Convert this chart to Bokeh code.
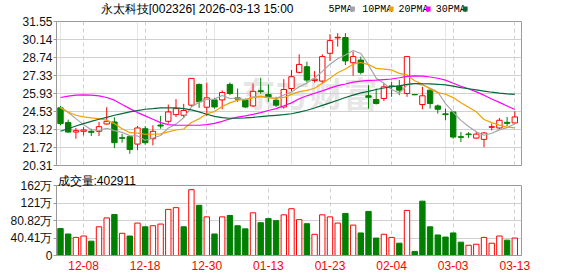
from bokeh.plotting import figure
from bokeh.models import Range1d, FixedTicker, Label, Grid, Title
from bokeh.core.properties import value
from bokeh.layouts import column
from bokeh.embed import file_html
from bokeh.resources import INLINE

# ---------------- data ----------------
dates = ["12-03", "12-04", "12-05", "12-08", "12-09", "12-10", "12-11", "12-12", "12-15", "12-16",
         "12-17", "12-18", "12-19", "12-22", "12-23", "12-24", "12-25", "12-26", "12-29", "12-30",
         "12-31", "01-05", "01-06", "01-07", "01-08", "01-09", "01-12", "01-13", "01-14", "01-15",
         "01-16", "01-19", "01-20", "01-21", "01-22", "01-23", "01-26", "01-27", "01-28", "01-29",
         "01-30", "02-02", "02-03", "02-04", "02-05", "02-06", "02-09", "02-10", "02-11", "02-12",
         "02-13", "03-03", "03-04", "03-05", "03-06", "03-09", "03-10", "03-11", "03-12", "03-13"]

opens = [24.81, 23.66, 22.92, 22.98, 22.98, 22.98, 23.55, 23.71, 22.48, 22.56,
         21.98, 23.18, 22.40, 23.47, 23.76, 24.28, 24.23, 25.02, 26.64, 24.86,
         25.43, 25.43, 26.64, 25.59, 25.43, 24.96, 26.14, 25.85, 25.41, 24.88,
         26.32, 27.58, 28.02, 26.95, 26.90, 29.07, 30.27, 30.30, 28.33, 28.54,
         25.75, 25.46, 25.54, 26.52, 26.50, 25.93, 25.85, 25.07, 26.19, 24.96,
         24.34, 24.49, 22.56, 22.77, 22.45, 22.35, 23.29, 23.24, 23.68, 23.63]
highs = [24.96, 23.89, 23.24, 23.32, 23.18, 23.71, 24.86, 24.07, 22.79, 22.66,
         23.39, 23.39, 23.45, 24.18, 25.07, 25.49, 25.12, 27.11, 26.71, 26.79,
         25.59, 26.17, 26.79, 26.32, 25.54, 26.71, 27.16, 26.64, 25.67, 27.05,
         27.76, 28.99, 28.41, 27.68, 28.99, 30.56, 30.64, 30.64, 29.20, 28.81,
         26.58, 26.32, 26.71, 26.84, 26.98, 28.81, 25.88, 26.45, 26.27, 25.07,
         24.75, 24.54, 22.92, 22.92, 22.92, 22.92, 23.58, 24.02, 24.10, 24.54]
lows = [23.45, 22.87, 22.40, 22.66, 22.61, 22.61, 23.50, 21.67, 22.09, 21.22,
        21.51, 21.93, 21.88, 23.18, 23.58, 24.10, 24.02, 24.88, 24.81, 24.18,
        24.75, 24.70, 25.80, 25.28, 24.81, 24.88, 25.93, 25.28, 24.88, 24.75,
        26.11, 27.50, 26.79, 26.79, 26.71, 28.47, 29.59, 28.15, 27.32, 27.42,
        24.75, 25.07, 25.33, 25.67, 25.80, 25.67, 25.80, 24.70, 24.75, 24.36,
        23.84, 22.40, 22.14, 22.45, 22.40, 21.75, 23.05, 23.13, 23.39, 23.58]
closes = [23.58, 22.92, 23.03, 23.08, 22.90, 23.34, 23.76, 22.09, 22.43, 21.56,
          23.24, 22.09, 22.98, 23.39, 24.49, 24.75, 24.60, 27.11, 25.28, 25.59,
          24.88, 26.01, 25.93, 25.49, 24.88, 26.10, 26.08, 25.62, 25.02, 26.24,
          27.24, 28.20, 26.98, 27.05, 28.81, 30.06, 30.32, 28.47, 28.81, 27.58,
          25.64, 25.15, 26.45, 26.48, 26.19, 28.81, 25.83, 25.75, 25.15, 24.70,
          24.28, 22.53, 22.51, 22.72, 22.76, 22.85, 23.34, 23.84, 23.60, 24.10]
# volume in 万 (10k)
volumes = [62.2, 49.7, 41.8, 45.0, 33.1, 66.3, 86.8, 94.7, 51.3, 45.0,
           74.9, 66.3, 68.7, 72.6, 106.5, 110.5, 66.3, 152.0, 115.9, 89.2,
           49.7, 89.2, 92.4, 68.7, 61.5, 98.6, 75.7, 85.2, 80.5, 93.9,
           108.0, 82.8, 73.4, 49.0, 93.9, 89.2, 74.9, 97.1, 70.2, 52.1,
           101.8, 40.3, 49.0, 41.8, 28.4, 104.1, 9.4, 125.5, 66.3, 47.4,
           42.6, 52.1, 30.8, 23.7, 26.0, 41.8, 28.4, 45.0, 35.5, 40.29]

ma5 = [24.88, 24.44, 23.97, 23.50, 23.10, 23.05, 23.22, 23.03, 22.90, 22.64,
       22.62, 22.28, 22.46, 22.65, 23.24, 23.54, 24.04, 24.87, 25.25, 25.47,
       25.49, 25.77, 25.54, 25.58, 25.44, 25.67, 25.69, 25.63, 25.53, 25.81,
       26.04, 26.46, 26.74, 27.14, 27.66, 28.22, 28.64, 28.94, 29.29, 29.05,
       28.16, 27.13, 26.73, 26.24, 25.96, 26.59, 26.73, 26.59, 26.35, 26.05,
       25.14, 24.48, 23.83, 23.35, 22.95, 22.67, 22.83, 23.09, 23.27, 23.55]
ma10 = [24.81, 24.49, 24.23, 24.10, 24.02, 23.97, 23.84, 23.58, 23.18, 22.87,
        22.84, 22.75, 22.75, 22.78, 22.94, 23.08, 23.16, 23.66, 23.95, 24.35,
        24.52, 24.91, 25.20, 25.41, 25.45, 25.58, 25.73, 25.58, 25.56, 25.62,
        25.86, 26.08, 26.18, 26.34, 26.73, 27.13, 27.55, 27.84, 28.22, 28.35,
        28.19, 27.89, 27.83, 27.77, 27.50, 27.38, 26.93, 26.66, 26.29, 26.00,
        25.87, 25.61, 25.21, 24.85, 24.50, 23.90, 23.66, 23.46, 23.31, 23.25]
ma20 = [25.62, 25.72, 25.80, 25.83, 25.80, 25.75, 25.62, 25.41, 25.07, 24.75,
        24.44, 24.18, 23.92, 23.66, 23.50, 23.45, 23.45, 23.45, 23.45, 23.50,
        23.60, 23.76, 23.95, 24.08, 24.18, 24.30, 24.44, 24.60, 24.75, 24.97,
        25.20, 25.52, 25.75, 25.95, 26.14, 26.35, 26.55, 26.67, 26.82, 26.90,
        26.96, 26.98, 27.02, 27.06, 27.16, 27.27, 27.30, 27.28, 27.22, 27.12,
        26.97, 26.73, 26.50, 26.30, 26.06, 25.80, 25.50, 25.24, 24.95, 24.68]
ma30 = [22.98, 23.18, 23.39, 23.58, 23.76, 23.92, 24.07, 24.23, 24.36, 24.49,
        24.60, 24.70, 24.75, 24.81, 24.81, 24.81, 24.75, 24.65, 24.49, 24.31,
        24.15, 24.05, 24.00, 24.00, 24.02, 24.07, 24.13, 24.18, 24.23, 24.28,
        24.35, 24.48, 24.62, 24.80, 25.00, 25.20, 25.40, 25.62, 25.80, 25.98,
        26.10, 26.24, 26.36, 26.47, 26.53, 26.64, 26.70, 26.69, 26.68, 26.65,
        26.60, 26.50, 26.39, 26.30, 26.21, 26.12, 26.03, 25.96, 25.90, 25.86]

price_ticks = [20.31, 21.72, 23.12, 24.53, 25.93, 27.33, 28.74, 30.14, 31.55]
vol_ticks = [0, 40.41, 80.82, 121.23, 161.64]
vol_tick_labels = ["0", "40.41万", "80.82万", "121万", "162万"]
date_tick_idx = [3, 11, 19, 27, 35, 43, 51, 59]
title_text = "永太科技[002326] 2026-03-13 15:00"
vol_title = "成交量:402911"
ma_names = ["5PMA", "10PMA", "20PMA", "30PMA"]
watermark = "东方财富"

# ---------------- style / layout ----------------
RED = "#ff0000"
GREEN = "#008000"
MA_COLORS = ["#a6a6a6", "#f5a000", "#ff00ff", "#05683a"]
FRAME = "#9a9a9a"
GRID = "#d0d0d0"
FONT = "Liberation Sans"

W = 578
HDR_H = 15          # header strip (title + MA legend): y 0 .. 15
P_H = 158           # price panel canvas: y 15 .. 173
V_H = 276 - HDR_H - P_H   # volume panel canvas: y 173 .. 276
L, R = 56, 57
P_TOP, P_BOT = 6, 8       # price frame 21 .. 165
V_TOP, V_BOT = 12, 21     # volume frame 185 .. 255
x_start, x_end = -0.52, 59.87
FRAME_W = W - L - R

n = len(closes)
xs = list(range(n))


def sx(X):
    return x_start + (X - L) * (x_end - x_start) / FRAME_W


def sy_price(Y):  # Y measured from page top
    top = HDR_H + P_TOP
    return price_ticks[-1] - (Y - top) * (price_ticks[-1] - price_ticks[0]) / (P_H - P_TOP - P_BOT)


def style_y(ax):
    ax.minor_tick_line_color = None
    ax.major_tick_in = 0
    ax.major_tick_out = 3
    ax.axis_line_color = FRAME
    ax.major_tick_line_color = FRAME
    ax.major_label_text_font = FONT
    ax.major_label_text_font_size = "12px"
    ax.major_label_text_color = "#111111"
    ax.major_label_standoff = 1


# ---------------- header strip ----------------
hdr = figure(width=W, height=HDR_H, x_range=Range1d(0, W), y_range=Range1d(HDR_H, 0),
             output_backend="svg", toolbar_location=None, x_axis_location=None,
             y_axis_location=None, min_border=0, title=None)
hdr.outline_line_color = None
hdr.grid.visible = False
hdr.text(x=[55], y=[8.5], text=[title_text], text_align="left", text_baseline="middle",
         text_font=value(FONT), text_font_size="12px", text_color="#000000")
leg_text_x = [338, 380, 425, 471.5]
leg_box_x = [365, 413, 459, 505]
hdr.text(x=leg_text_x, y=[8.5] * 4, text=ma_names, text_align="left", text_baseline="middle",
         text_font=value("Liberation Mono"), text_font_size="10px", text_color="#000000")
hdr.quad(left=leg_box_x, right=[b + 6 for b in leg_box_x], top=[6] * 4, bottom=[11] * 4,
         fill_color=MA_COLORS, line_color=None)

# ---------------- price panel ----------------
p = figure(width=W, height=P_H, x_range=Range1d(x_start, x_end),
           y_range=Range1d(price_ticks[0], price_ticks[-1]),
           output_backend="svg", toolbar_location=None, x_axis_location=None,
           min_border_left=L, min_border_right=R, min_border_top=P_TOP, min_border_bottom=P_BOT,
           title=None)
p.outline_line_color = FRAME
p.yaxis.ticker = FixedTicker(ticks=price_ticks)
p.yaxis.major_label_overrides = {t: f"{t:.2f}" for t in price_ticks}
style_y(p.yaxis[0])
p.ygrid.ticker = FixedTicker(ticks=price_ticks)
p.ygrid.grid_line_color = GRID
p.add_layout(Grid(dimension=0, ticker=FixedTicker(ticks=date_tick_idx),
                  grid_line_color=GRID, grid_line_dash="4 3"))

p.add_layout(Label(x=sx(241), y=sy_price(92), text=watermark, text_align="left",
                   text_baseline="middle", text_font="Noto Sans CJK SC", text_font_size="34px",
                   text_font_style="bold", text_color="#d6d6d6", text_alpha=0.6, level="underlay"))

up = [c >= o for o, c in zip(opens, closes)]
for flag, col, fill in [(True, RED, "white"), (False, GREEN, GREEN)]:
    idx = [i for i in xs if up[i] == flag]
    p.segment(x0=idx, y0=[highs[i] for i in idx], x1=idx, y1=[lows[i] for i in idx],
              line_color=col, line_width=1)
    p.vbar(x=idx, width=0.7, top=[max(opens[i], closes[i]) for i in idx],
           bottom=[min(opens[i], closes[i]) for i in idx],
           fill_color=fill, line_color=col, line_width=1)

for ma, col in zip([ma5, ma10, ma20, ma30], MA_COLORS):
    p.line(xs, ma, line_color=col, line_width=1.2)

# ---------------- volume panel ----------------
v = figure(width=W, height=V_H, x_range=p.x_range, y_range=Range1d(0, vol_ticks[-1]),
           output_backend="svg", toolbar_location=None,
           min_border_left=L, min_border_right=R, min_border_top=V_TOP, min_border_bottom=V_BOT,
           title=None)
title_kw = dict(text=vol_title, align="left", offset=1, text_font=FONT,
                text_font_size="12px", text_font_style="normal", text_color="#000000")
try:
    vol_title_obj = Title(standoff=-4, **title_kw)
except Exception:
    vol_title_obj = Title(standoff=0, **title_kw)
v.add_layout(vol_title_obj, "above")
v.outline_line_color = FRAME
v.yaxis.ticker = FixedTicker(ticks=vol_ticks)
v.yaxis.major_label_overrides = {t: lab for t, lab in zip(vol_ticks, vol_tick_labels)}
style_y(v.yaxis[0])
v.ygrid.ticker = FixedTicker(ticks=vol_ticks)
v.ygrid.grid_line_color = GRID
v.xaxis.ticker = FixedTicker(ticks=date_tick_idx)
v.xaxis.major_label_overrides = {i: dates[i] for i in date_tick_idx}
v.xaxis.major_label_text_color = RED
v.xaxis.major_label_text_font = FONT
v.xaxis.major_label_text_font_size = "12px"
v.xaxis.major_tick_in = 0
v.xaxis.major_tick_out = 0
v.xaxis.minor_tick_line_color = None
v.xaxis.axis_line_color = FRAME
v.xaxis.major_label_standoff = 5
v.xgrid.ticker = FixedTicker(ticks=date_tick_idx)
v.xgrid.grid_line_color = GRID
v.xgrid.grid_line_dash = "4 3"

vol_up = [closes[i] >= (closes[i - 1] if i > 0 else opens[i]) for i in xs]
for flag, col, fill in [(True, RED, "white"), (False, GREEN, GREEN)]:
    idx = [i for i in xs if vol_up[i] == flag]
    v.vbar(x=idx, width=0.7, top=[volumes[i] for i in idx], bottom=0,
           fill_color=fill, line_color=col, line_width=1)

layout = column(hdr, p, v)
open("out.html", "w").write(file_html(layout, INLINE))
